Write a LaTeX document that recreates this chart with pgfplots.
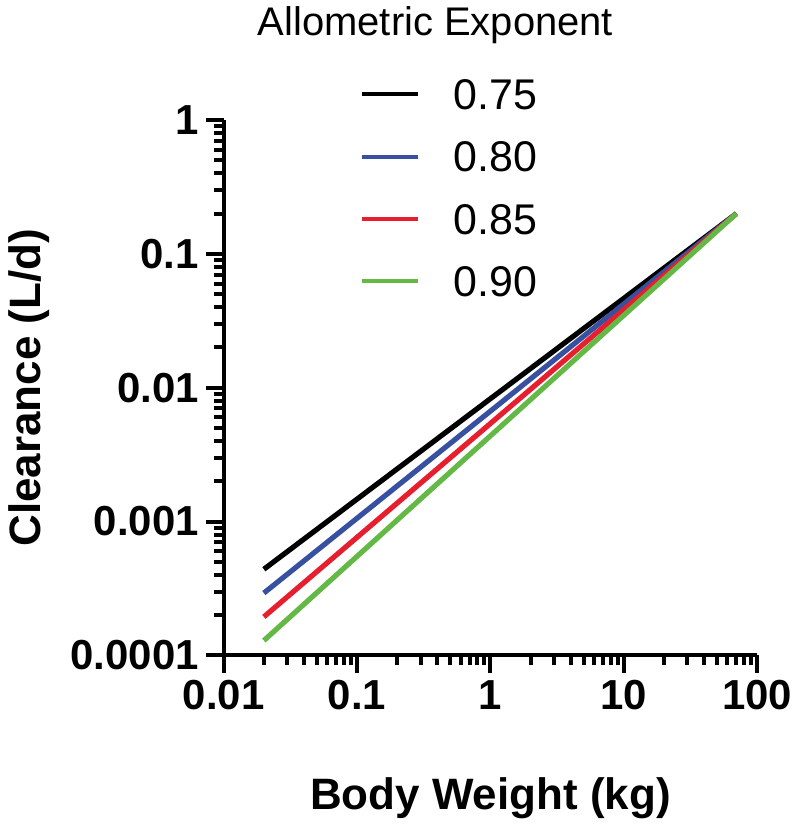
\documentclass[border=0pt]{standalone}
\usepackage{pgfplots}
\pgfplotsset{compat=1.18}
\usepackage{fontspec}
\setmainfont{Liberation Sans}

\definecolor{cblue}{RGB}{55,80,160}
\definecolor{cred}{RGB}{230,30,45}
\definecolor{cgreen}{RGB}{100,185,70}

\begin{document}
\begin{tikzpicture}
\begin{axis}[
    at={(0,0)}, anchor=south west,
    scale only axis,
    width=267pt, height=268pt,
    xmode=log, ymode=log,
    xmin=0.01, xmax=100,
    ymin=0.0001, ymax=1,
    axis x line=bottom, axis y line=left,
    axis line style={-, line width=2pt},
    tick align=outside,
    major tick length=9pt,
    minor tick length=5pt,
    every tick/.style={black, line width=2pt},
    xtick={0.01,0.1,1,10,100},
    xticklabels={0.01,0.1,1,10,100},
    ytick={0.0001,0.001,0.01,0.1,1},
    yticklabels={0.0001,0.001,0.01,0.1,1},
    /pgf/number format/assume math mode=true,
    ticklabel style={font=\bfseries\fontsize{21}{25}\selectfont},
    xlabel={Body Weight (kg)},
    ylabel={Clearance (L/d)},
    label style={font=\bfseries\fontsize{22}{26}\selectfont},
    xlabel style={at={(axis description cs:0.5,-0.266)}, anchor=center},
    ylabel style={at={(axis description cs:-0.365,0.5)}, anchor=center},
    legend style={
        at={(axis description cs:0.243,1.084)}, anchor=north west,
        draw=none, fill=none,
        font=\fontsize{21.5}{25}\selectfont,
        row sep=16.2pt,
        nodes={inner sep=0pt, text height=15pt, text depth=0pt},
        /tikz/every odd column/.append style={column sep=17pt},
    },
    legend cell align=left,
    legend image code/.code={
        \draw[#1, line width=2pt] (0pt,0pt) -- (28pt,0pt);
    },
    clip=false,
]

% exponent 0.75
\addplot[black, line width=2.6pt] coordinates {(0.02,0.00044) (70,0.2)};
\addlegendentry{0.75}
% exponent 0.80
\addplot[cblue, line width=2.6pt] coordinates {(0.02,0.000292) (70,0.2)};
\addlegendentry{0.80}
% exponent 0.85
\addplot[cred, line width=2.6pt] coordinates {(0.02,0.000194) (70,0.2)};
\addlegendentry{0.85}
% exponent 0.90
\addplot[cgreen, line width=2.6pt] coordinates {(0.02,0.000129) (70,0.2)};
\addlegendentry{0.90}

\node[font=\fontsize{20}{24}\selectfont, anchor=center]
    at (axis description cs:0.397,1.177) {Allometric Exponent};
\end{axis}
\path[use as bounding box] (-112pt,-84.5pt) rectangle (288pt,328pt);
\end{tikzpicture}
\end{document}
